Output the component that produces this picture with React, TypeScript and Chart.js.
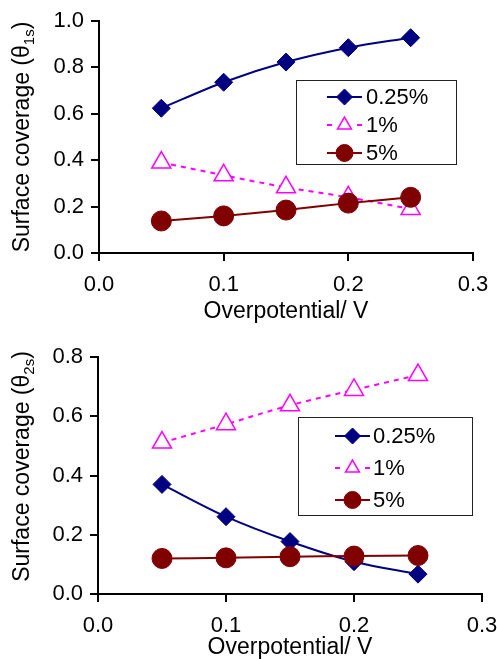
import React, { useEffect, useRef } from "react";
import { Chart, registerables } from "chart.js";

Chart.register(...registerables);

// ---- data ----
const overpotential = [0.05, 0.1, 0.15, 0.2, 0.25];
const xTicks = [0, 0.1, 0.2, 0.3];
const yTicksTop = [0, 0.2, 0.4, 0.6, 0.8, 1.0];
const yTicksBottom = [0, 0.2, 0.4, 0.6, 0.8];
const seriesLabels = ["0.25%", "1%", "5%"];
const xTitle = "Overpotential/ V";

const theta1s_025 = [0.624, 0.736, 0.823, 0.885, 0.928];
const theta1s_1 = [0.39, 0.335, 0.283, 0.24, 0.19];
const theta1s_5 = [0.138, 0.16, 0.185, 0.215, 0.24];

const theta2s_025 = [0.37, 0.261, 0.177, 0.109, 0.067];
const theta2s_1 = [0.511, 0.573, 0.637, 0.689, 0.739];
const theta2s_5 = [0.12, 0.122, 0.126, 0.128, 0.13];

// ---- styles ----
const FONT = "'Liberation Sans', Arial, Helvetica, sans-serif";
const seriesStyles = [
  { color: "#000080", fill: "#000080", point: "rectRot", r: 9, lr: 8, dash: [] as number[], bw: 1, order: 2 },
  { color: "#FF00FF", fill: "#FFFFFF", point: "triangle", r: 11, lr: 8, dash: [5, 5], bw: 1.5, order: 1 },
  { color: "#800000", fill: "#800000", point: "circle", r: 10, lr: 8.5, dash: [] as number[], bw: 1, order: 0 },
];

function drawMarker(ctx: CanvasRenderingContext2D, kind: string, x: number, y: number, r: number) {
  ctx.beginPath();
  if (kind === "rectRot") {
    ctx.moveTo(x - r, y);
    ctx.lineTo(x, y - r);
    ctx.lineTo(x + r, y);
    ctx.lineTo(x, y + r);
    ctx.closePath();
  } else if (kind === "triangle") {
    for (let k = 0; k < 3; k++) {
      const a = (k * 2 * Math.PI) / 3;
      const px = x + Math.sin(a) * r;
      const py = y - Math.cos(a) * r;
      if (k === 0) ctx.moveTo(px, py);
      else ctx.lineTo(px, py);
    }
    ctx.closePath();
  } else {
    ctx.arc(x, y, r, 0, Math.PI * 2);
  }
  ctx.fill();
  ctx.stroke();
}

const boxLegendPlugin = {
  id: "boxLegend",
  afterDraw(chart: any, _args: any, opts: any) {
    const { ctx, chartArea } = chart;
    const x0 = chartArea.left + opts.dx;
    const y0 = chartArea.top + opts.dy;
    ctx.save();
    ctx.fillStyle = "#FFFFFF";
    ctx.fillRect(x0, y0, opts.w, opts.h);
    ctx.strokeStyle = "#222";
    ctx.lineWidth = 1;
    ctx.strokeRect(Math.round(x0) + 0.5, Math.round(y0) + 0.5, opts.w, opts.h);
    seriesLabels.forEach((label, i) => {
      const st = seriesStyles[i];
      const y = y0 + opts.row0 + i * opts.rowH;
      const lx0 = x0 + opts.line0;
      const lx1 = x0 + opts.line1;
      const mx = x0 + opts.mark;
      ctx.strokeStyle = st.color;
      ctx.lineWidth = 2;
      ctx.setLineDash([]);
      ctx.beginPath();
      if (st.dash.length) {
        ctx.moveTo(lx0, y);
        ctx.lineTo(lx0 + 5, y);
        ctx.moveTo(lx1 - 5, y);
        ctx.lineTo(lx1, y);
      } else {
        ctx.moveTo(lx0, y);
        ctx.lineTo(lx1, y);
      }
      ctx.stroke();
      ctx.fillStyle = st.fill;
      ctx.strokeStyle = st.color;
      ctx.lineWidth = st.bw;
      drawMarker(ctx, st.point, mx, y, st.lr);
      ctx.fillStyle = "#000";
      ctx.font = `${opts.fontSize}px ${FONT}`;
      ctx.textAlign = "left";
      ctx.textBaseline = "middle";
      ctx.fillText(label, x0 + opts.text, y + 1);
    });
    ctx.restore();
  },
};

const yTitlePlugin = {
  id: "yTitle",
  afterDraw(chart: any, _args: any, opts: any) {
    const { ctx, chartArea } = chart;
    const cy = (chartArea.top + chartArea.bottom) / 2 + opts.dy;
    ctx.save();
    ctx.translate(opts.x, cy);
    ctx.rotate(-Math.PI / 2);
    ctx.fillStyle = "#000";
    ctx.textBaseline = "alphabetic";
    ctx.textAlign = "left";
    const mainFont = `${opts.size}px ${FONT}`;
    const subFont = `${opts.subSize}px ${FONT}`;
    ctx.font = mainFont;
    const w1 = ctx.measureText(opts.main).width;
    const w3 = ctx.measureText(")").width;
    ctx.font = subFont;
    const w2 = ctx.measureText(opts.sub).width;
    let u = -(w1 + w2 + w3) / 2;
    ctx.font = mainFont;
    ctx.fillText(opts.main, u, 0);
    u += w1;
    ctx.font = subFont;
    ctx.fillText(opts.sub, u, opts.subShift);
    u += w2;
    ctx.font = mainFont;
    ctx.fillText(")", u, 0);
    ctx.restore();
  },
};

function makeDatasets(values: number[][]) {
  return values.map((vals, i) => {
    const st = seriesStyles[i];
    return {
      label: seriesLabels[i],
      data: overpotential.map((x, k) => ({ x, y: vals[k] })),
      borderColor: st.color,
      backgroundColor: st.fill,
      borderWidth: 2,
      borderDash: st.dash,
      tension: 0.33,
      pointStyle: st.point,
      pointRadius: st.r,
      pointHoverRadius: st.r,
      pointBackgroundColor: st.fill,
      pointBorderColor: st.color,
      pointBorderWidth: st.bw,
      order: st.order,
    };
  });
}

type PanelProps = {
  height: number;
  values: number[][];
  yMax: number;
  yTicks: number[];
  sub: string;
  pad: { top: number; right: number };
  yWidth: number;
  xHeight: number;
  xTitlePadBottom: number;
  legend: any;
  yTitle: any;
  tickSize: number;
  titleSize: number;
};

function Panel(p: PanelProps) {
  const ref = useRef<HTMLCanvasElement | null>(null);
  useEffect(() => {
    if (!ref.current) return;
    const tickFont = { family: FONT, size: p.tickSize, lineHeight: 1.2 };
    const chart = new Chart(ref.current, {
      type: "line",
      data: { datasets: makeDatasets(p.values) as any },
      plugins: [boxLegendPlugin, yTitlePlugin],
      options: {
        animation: false,
        responsive: false,
        layout: { padding: { top: p.pad.top, right: p.pad.right, left: 0, bottom: 0 } },
        plugins: {
          legend: { display: false },
          tooltip: { enabled: false },
          boxLegend: p.legend,
          yTitle: { ...p.yTitle, sub: p.sub },
        } as any,
        scales: {
          x: {
            type: "linear",
            min: 0,
            max: 0.3,
            afterBuildTicks: (s: any) => {
              s.ticks = xTicks.map((v) => ({ value: v }));
            },
            afterFit: (s: any) => {
              s.height = p.xHeight;
              s.paddingRight = 0;
              s.paddingLeft = 0;
            },
            ticks: {
              color: "#000",
              font: tickFont,
              padding: 11,
              autoSkip: false,
              maxRotation: 0,
              callback: (v: any) => Number(v).toFixed(1),
            },
            grid: { drawOnChartArea: false, drawTicks: true, tickLength: 8, color: "#000", lineWidth: 2 },
            border: { display: true, color: "#000", width: 2 },
            title: {
              display: true,
              text: xTitle,
              color: "#000",
              font: { family: FONT, size: p.titleSize, lineHeight: 1 },
              padding: { top: 0, bottom: p.xTitlePadBottom },
            },
          },
          y: {
            type: "linear",
            min: 0,
            max: p.yMax,
            afterBuildTicks: (s: any) => {
              s.ticks = p.yTicks.map((v) => ({ value: v }));
            },
            afterFit: (s: any) => {
              s.width = p.yWidth;
            },
            ticks: {
              color: "#000",
              font: tickFont,
              padding: 7,
              callback: (v: any) => Number(v).toFixed(1),
            },
            grid: { drawOnChartArea: false, drawTicks: true, tickLength: 8, color: "#000", lineWidth: 2 },
            border: { display: true, color: "#000", width: 2 },
          },
        },
      },
    } as any);
    return () => chart.destroy();
  }, []);
  return (
    <canvas
      ref={ref}
      width={497}
      height={p.height}
      style={{ display: "block", width: 497, height: p.height }}
    />
  );
}

export default function App() {
  return (
    <div style={{ position: "absolute", left: 0, top: 0, width: 497, height: 659, background: "#fff" }}>
      <Panel
        height={330}
        values={[theta1s_025, theta1s_1, theta1s_5]}
        yMax={1.0}
        yTicks={yTicksTop}
        sub="1s"
        pad={{ top: 21, right: 24 }}
        yWidth={99}
        xHeight={77}
        xTitlePadBottom={7}
        tickSize={22}
        titleSize={23}
        legend={{ dx: 197, dy: 59, w: 160, h: 84, row0: 17, rowH: 28, line0: 31, line1: 66, mark: 48.5, text: 70, fontSize: 22 }}
        yTitle={{ x: 29, dy: 0, size: 23, subSize: 15, subShift: 5, main: "Surface coverage (θ" }}
      />
      <Panel
        height={329}
        values={[theta2s_025, theta2s_1, theta2s_5]}
        yMax={0.8}
        yTicks={yTicksBottom}
        sub="2s"
        pad={{ top: 27, right: 15 }}
        yWidth={98}
        xHeight={65}
        xTitlePadBottom={0}
        tickSize={22}
        titleSize={23}
        legend={{ dx: 200, dy: 60, w: 174, h: 98, row0: 19, rowH: 32, line0: 37, line1: 72, mark: 54.5, text: 75, fontSize: 22 }}
        yTitle={{ x: 29, dy: -9, size: 23, subSize: 15, subShift: 5, main: "Surface coverage (θ" }}
      />
    </div>
  );
}
